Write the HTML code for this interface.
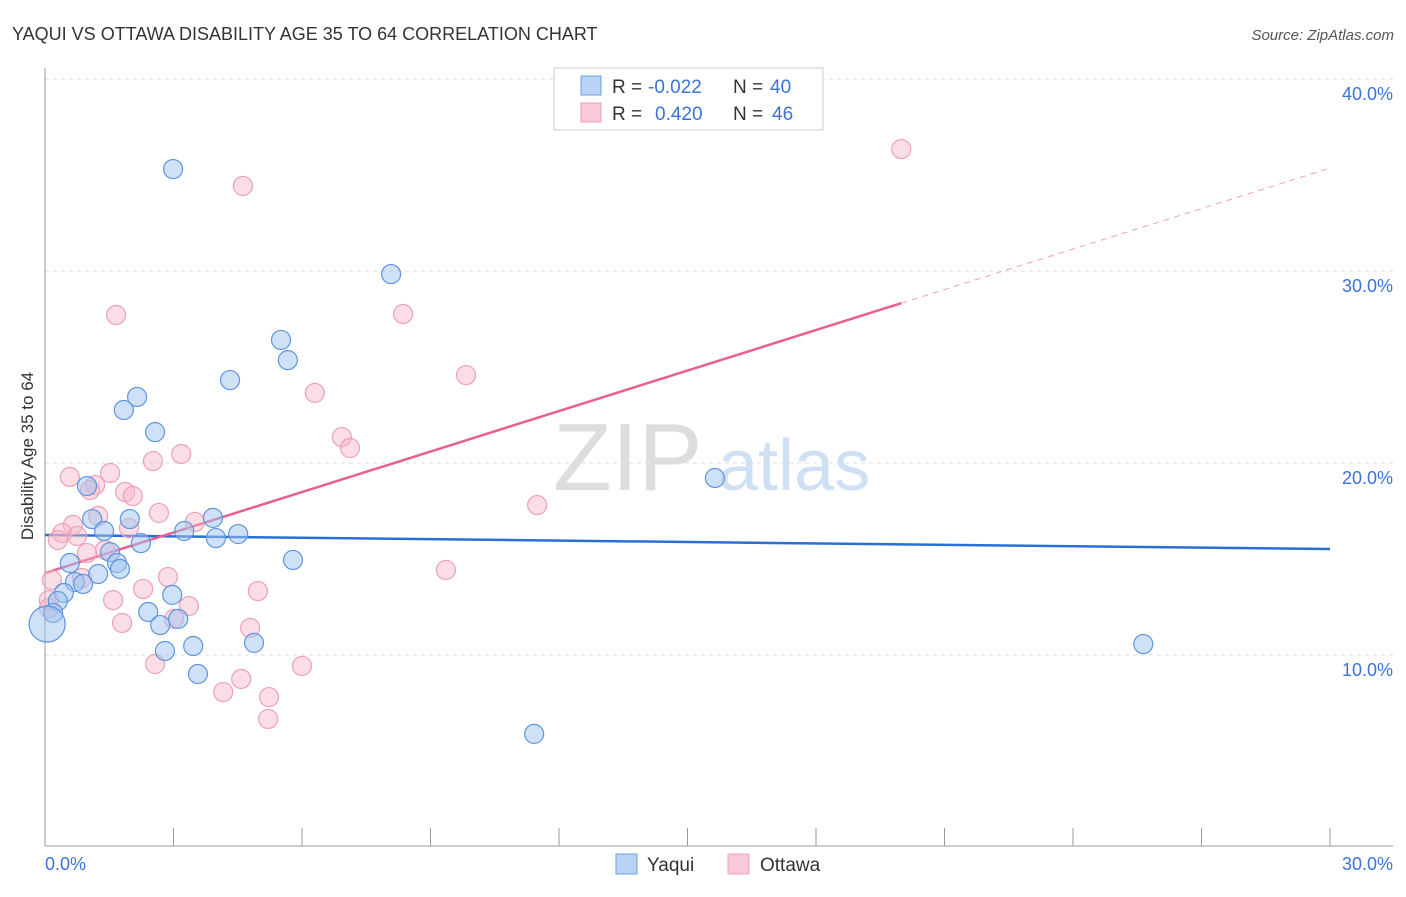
<!DOCTYPE html>
<html><head><meta charset="utf-8"><style>
body{margin:0;background:#fff;font-family:"Liberation Sans",sans-serif;}
svg text{font-family:"Liberation Sans",sans-serif;}
</style></head><body>
<svg id="chart" width="1406" height="892" xmlns="http://www.w3.org/2000/svg">
<text x="12" y="40" font-size="18" fill="#333">YAQUI VS OTTAWA DISABILITY AGE 35 TO 64 CORRELATION CHART</text>
<text x="1394" y="40" font-size="15" fill="#555" font-style="italic" text-anchor="end">Source: ZipAtlas.com</text>
<text transform="translate(33,456) rotate(-90)" font-size="17" fill="#333" text-anchor="middle">Disability Age 35 to 64</text>
<g>
<text x="553" y="490" font-size="96" fill="#ddd" font-family="Liberation Serif">ZIP</text>
<text x="718" y="490" font-size="72" fill="#cfe0f5">atlas</text>
</g>
<g id="grid"></g><g id="axes"></g><g id="lines"></g><g id="points"></g>
<g>
<rect x="554" y="68" width="269" height="62" fill="#fff" stroke="#ccc"/>
<rect x="581" y="76" width="20" height="19" fill="#b8d3f5" stroke="#6a9fe0"/>
<rect x="581" y="103" width="20" height="19" fill="#f9c9d7" stroke="#eea0b8"/>
<text x="612" y="93" font-size="19" fill="#333">R = </text><text x="648" y="93" font-size="19" fill="#3b73d6">-0.022</text>
<text x="733" y="93" font-size="19" fill="#333">N = </text><text x="770" y="93" font-size="19" fill="#3b73d6">40</text>
<text x="612" y="120" font-size="19" fill="#333">R = </text><text x="655" y="120" font-size="19" fill="#3b73d6">0.420</text>
<text x="733" y="120" font-size="19" fill="#333">N = </text><text x="772" y="120" font-size="19" fill="#3b73d6">46</text>
</g>
<g>
<rect x="616" y="854" width="21" height="20" fill="#b8d3f5" stroke="#6a9fe0"/>
<text x="647" y="871" font-size="19" fill="#333">Yaqui</text>
<rect x="728" y="854" width="21" height="20" fill="#f9c9d7" stroke="#eea0b8"/>
<text x="760" y="871" font-size="19" fill="#333">Ottawa</text>
</g>
</svg>
<script>
const yaquiX=[2.99,8.08,5.51,5.67,4.32,2.15,1.84,2.57,15.64,0.98,1.10,1.98,3.92,1.38,3.25,4.51,3.99,2.24,1.52,5.79,0.58,1.68,1.75,1.24,0.70,0.89,0.44,0.30,2.97,2.41,0.19,3.11,2.69,3.46,4.88,2.80,3.57,25.64,11.42,0.05];
const yaquiY=[35.31,29.84,26.41,25.36,24.32,23.44,22.76,21.61,19.22,18.80,17.08,17.08,17.14,16.46,16.46,16.30,16.09,15.83,15.36,14.95,14.79,14.79,14.48,14.22,13.80,13.70,13.23,12.81,13.13,12.24,12.19,11.88,11.56,10.47,10.63,10.21,9.01,10.57,5.89,11.61];
const ottawaX=[19.99,4.62,1.66,8.36,6.30,9.83,6.93,7.12,3.18,2.52,0.58,1.52,1.17,1.05,1.87,2.05,11.49,2.66,1.24,3.50,0.65,1.96,0.40,0.75,0.30,1.40,0.98,2.87,0.86,0.16,9.36,2.29,4.97,1.59,3.36,0.09,3.01,1.80,4.79,2.57,6.00,4.58,4.16,5.23,5.21,0.09];
const ottawaY=[36.35,34.43,27.71,27.76,23.65,24.58,21.35,20.78,20.47,20.10,19.27,19.48,18.85,18.59,18.49,18.28,17.81,17.40,17.24,16.93,16.77,16.61,16.35,16.20,15.99,15.47,15.31,14.06,14.01,13.91,14.43,13.44,13.33,12.86,12.55,12.86,11.88,11.67,11.41,9.53,9.43,8.75,8.07,7.81,6.67,12.45];
const yTicks=[10,20,30,40];
const yTickLabels=["10.0%","20.0%","30.0%","40.0%"];
const xTicks=[0,3,6,9,12,15,18,21,24,27,30];
const xLabels=[[0,"0.0%"],[30,"30.0%"]];
const yaquiTrend=[16.25,15.52];   // values at x=0 and x=30
const ottawaTrend=[14.27,35.36];

const NS="http://www.w3.org/2000/svg";
const sx=v=>45+v*(1285/30);
const sy=v=>655-(v-10)*19.2;
function mk(tag,attrs,parent){const e=document.createElementNS(NS,tag);for(const k in attrs)e.setAttribute(k,attrs[k]);parent.appendChild(e);return e;}
const grid=document.getElementById('grid'),axes=document.getElementById('axes'),lines=document.getElementById('lines'),pts=document.getElementById('points');
yTicks.forEach((t,i)=>{
 const l=mk('line',{x1:45,x2:1393,y1:sy(t),y2:sy(t),stroke:'#ddd','stroke-dasharray':'4,4'},grid);
 
 
 const tx=mk('text',{x:1393,y:sy(t)+21,'font-size':18,fill:'#3b73d6','text-anchor':'end'},grid);
 tx.textContent=yTickLabels[i];
 
 
});
const ya=mk('line',{x1:45,x2:45,y1:68,y2:846,stroke:'#999'},axes);


const xa=mk('line',{x1:45,x2:1393,y1:846,y2:846,stroke:'#999'},axes);


xTicks.forEach(t=>{
 const tk=mk('line',{x1:sx(t),x2:sx(t),y1:828,y2:846,stroke:'#999'},axes);
 
 
});
xLabels.forEach(([v,s])=>{
 const tx=mk('text',{x:v===0?45:sx(v)+63,y:870,'font-size':18,fill:'#3b73d6','text-anchor':v===0?'start':'end'},axes);
 tx.textContent=s;
 
 
});
// trend lines
const bl=mk('line',{x1:sx(0),y1:sy(yaquiTrend[0]),x2:sx(30),y2:sy(yaquiTrend[1]),stroke:'#2a6fd6','stroke-width':2.5},lines);


const pxMax=Math.max(...ottawaX);
const oy=x=>ottawaTrend[0]+(ottawaTrend[1]-ottawaTrend[0])*x/30;
const pl=mk('line',{x1:sx(0),y1:sy(oy(0)),x2:sx(pxMax),y2:sy(oy(pxMax)),stroke:'#e8608e','stroke-width':2.5},lines);


const pd=mk('line',{x1:sx(pxMax),y1:sy(oy(pxMax)),x2:sx(30),y2:sy(oy(30)),stroke:'#e8608e','stroke-width':1,'stroke-dasharray':'6,5','opacity':0.6},lines);


ottawaX.forEach((x,i)=>{
 const c=mk('circle',{cx:sx(x),cy:sy(ottawaY[i]),r:9.5,fill:'rgba(246,180,200,0.45)',stroke:'#eea0b8','stroke-width':1.2},pts);
 
 
});
yaquiX.forEach((x,i)=>{
 const c=mk('circle',{cx:sx(x),cy:sy(yaquiY[i]),r:i===yaquiX.length-1?18:9.5,fill:'rgba(160,196,240,0.5)',stroke:'#5e95dd','stroke-width':1.2},pts);
 
 
});
</script>
</body></html>
